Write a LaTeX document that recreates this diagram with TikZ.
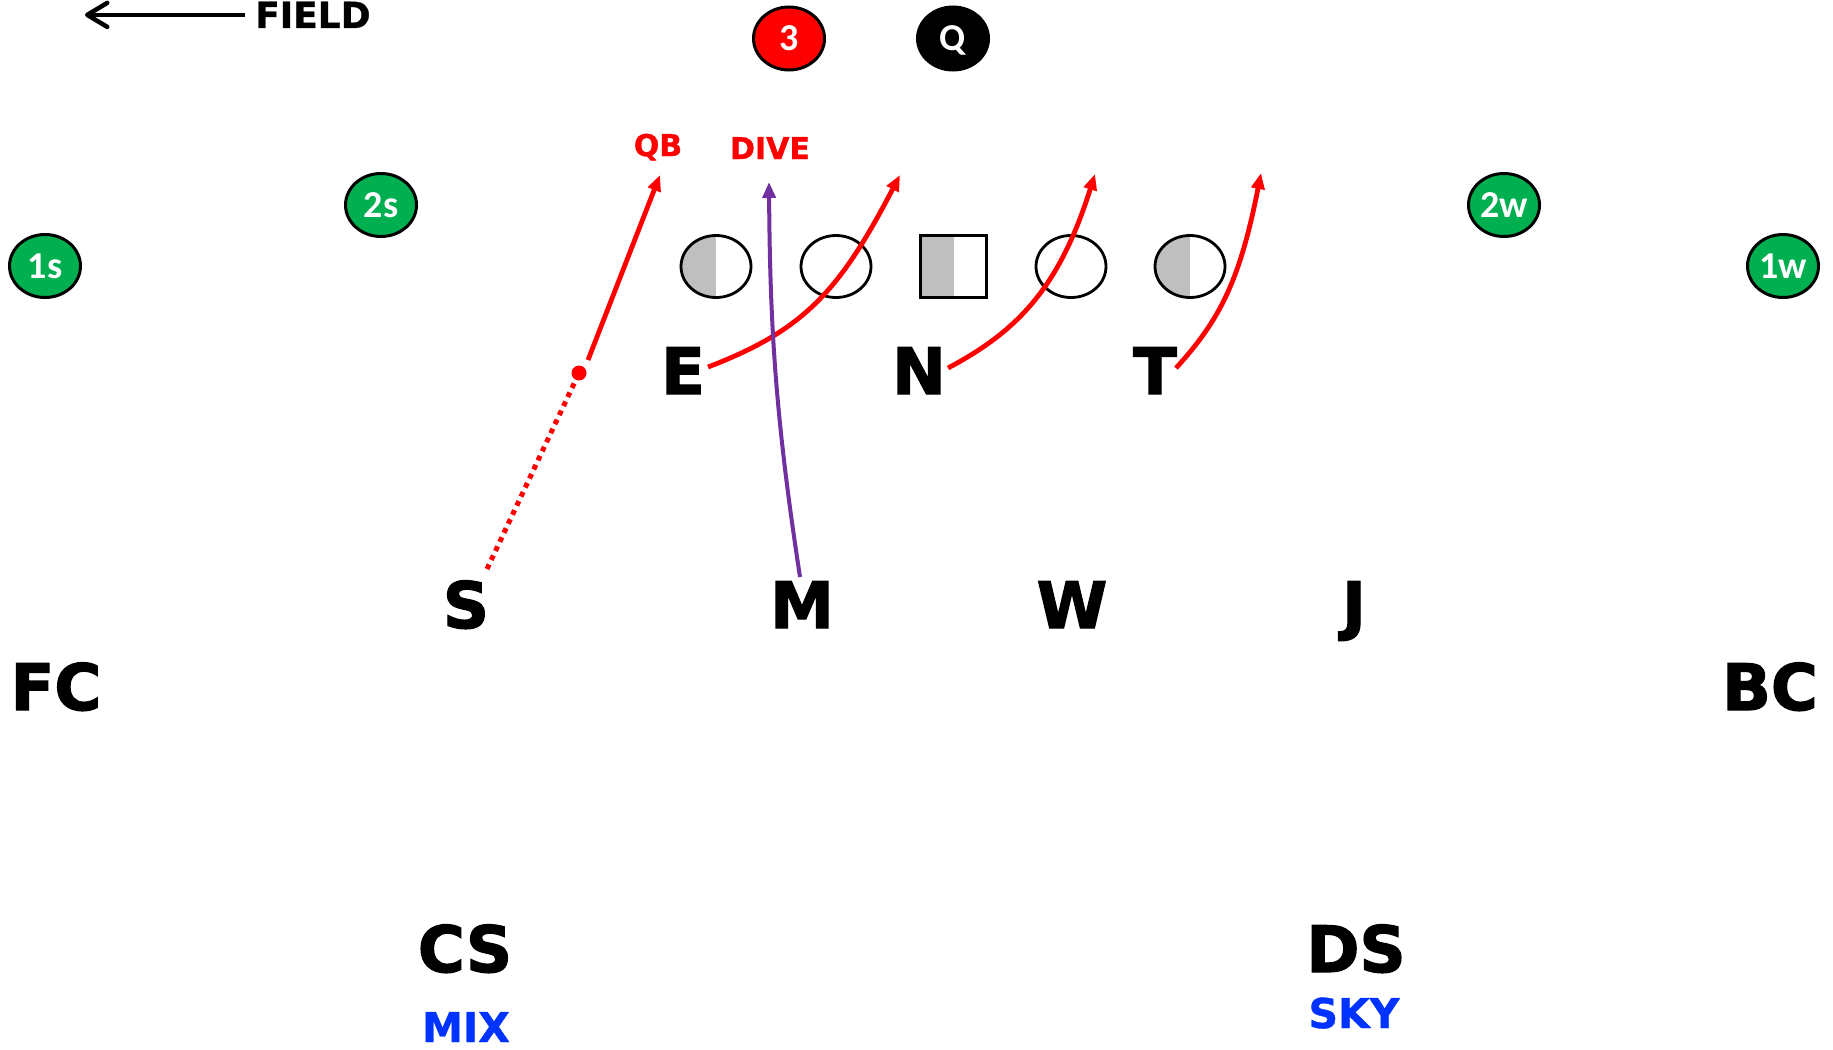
\documentclass[tikz,border=0pt]{standalone}
\usepackage{fontspec}
\setmainfont{DejaVu Sans}
\newfontfamily\heavyfont{DejaVu Sans Bold}[FakeBold=2]
\newfontfamily\semifont{DejaVu Sans Bold}[FakeBold=1]
\newfontfamily\numfont{Carlito}
\usetikzlibrary{arrows.meta,shapes.geometric}
\definecolor{fgreen}{HTML}{00B050}
\definecolor{lgray}{HTML}{BFBFBF}
\definecolor{purp}{HTML}{7030A0}
\definecolor{cblue}{HTML}{0033FF}
\tikzset{
  big/.style={anchor=base, inner sep=0pt, font=\heavyfont\fontsize{64}{64}\selectfont},
  redlbl/.style={anchor=base, inner sep=0pt, text=red, font=\semifont\fontsize{30}{30}\selectfont},
  bluelbl/.style={anchor=base, inner sep=0pt, text=cblue, font=\semifont\fontsize{41}{41}\selectfont},
  disc/.style={ellipse, draw=black, line width=3pt, minimum width=71pt, minimum height=63pt, inner sep=0pt, text depth=0pt, text=white, font=\numfont\bfseries\fontsize{38}{38}\selectfont},
  wr/.style={disc, fill=fgreen},
  lman/.style={ellipse, draw=black, line width=2.8pt, fill=white, minimum width=70pt, minimum height=62pt, inner sep=0pt},
  ctr/.style={rectangle, draw=black, line width=2.8pt, fill=white, minimum width=66pt, minimum height=62pt, inner sep=0pt},
  half/.style={path picture={\fill[lgray] (path picture bounding box.south west) rectangle (path picture bounding box.north);}},
  route/.style={red, line width=4.8pt, -{Triangle[length=16pt,width=13pt]}},
}
\begin{document}
\begin{tikzpicture}[x=1pt,y=-1pt]
\useasboundingbox (0,0) rectangle (1833,1049);

% field indicator
\node[anchor=base west, inner sep=0pt, font=\semifont\fontsize{36}{36}\selectfont] (field) at (255,28) {FIELD};
\coordinate (ftip) at (85,14);
\draw[line width=4.5pt, -{Straight Barb[length=20pt,width=24pt,round]}] ([xshift=-10pt]field.west) -- (ftip |- field.west);

% backfield
\node[disc, fill=red] (three) at (789,38.5) {3};
\node[disc, fill=black] (q) at (953,38.5) {Q};

% receivers
\node[wr] (w1s) at (45,266) {1s};
\node[wr] (w2s) at (381,205) {2s};
\node[wr] (w2w) at (1504,205) {2w};
\node[wr] (w1w) at (1783,266) {1w};

% line
\node[lman, half] (lt) at (716,266.5) {};
\node[lman] (lg) at (836,266.5) {};
\node[ctr, half] (c) at (953.5,266.5) {};
\node[lman] (rg) at (1071,266.5) {};
\node[lman, half] (rt) at (1190,266.5) {};

% labels
\node[redlbl] (qb) at (658,156) {QB};
\node[redlbl] (dive) at (770,159) {DIVE};

% defenders
\node[big] (e) at (683,394) {E};
\node[big] (n) at (919,394) {N};
\node[big] (t) at (1155,394) {T};
\node[big] (s) at (466,628) {S};
\node[big] (m) at (802,628) {M};
\node[big] (w) at (1072,628) {W};
\node[big] (j) at (1354,628) {J};
\node[big] (fc) at (56,710) {FC};
\node[big] (bc) at (1770,710) {BC};
\node[big] (cs) at (465,972) {CS};
\node[big] (ds) at (1356,972) {DS};
\node[bluelbl] (mix) at (466,1042) {MIX};
\node[bluelbl] (sky) at (1354,1028) {SKY};

% route coordinates
\coordinate (s0) at (487,569);
\node[circle, fill=red, minimum size=15pt, inner sep=0pt] (sdot) at (579,373) {};
\coordinate (s1) at (588,360);
\coordinate (s2) at (660,175);
\coordinate (e0) at (708,367);
\coordinate (e1) at (900,175);
\coordinate (n0) at (948,368);
\coordinate (n1) at (1095,174);
\coordinate (t0) at (1176,368);
\coordinate (t1) at (1261,173);
\coordinate (m0) at (800,577);
\coordinate (m1) at (769,182);

% routes
\draw[red, line width=5pt, dash pattern=on 5pt off 5pt] (s0) -- (sdot);
\draw[route] (s1) -- (s2);
\draw[route] (e0) .. controls (805,330) and (840,290) .. (e1);
\draw[route] (n0) .. controls (1020,330) and (1060,285) .. (n1);
\draw[route] (t0) .. controls (1220,320) and (1240,280) .. (t1);
\draw[purp, line width=4pt, -{Triangle[length=16pt,width=13pt]}] (m0) .. controls (776,420) and (770,330) .. (m1);
\end{tikzpicture}
\end{document}
